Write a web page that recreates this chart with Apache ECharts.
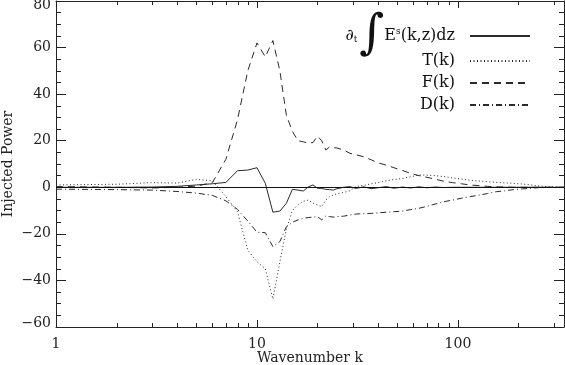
<!DOCTYPE html>
<html>
<head>
<meta charset="utf-8">
<script src="https://cdn.jsdelivr.net/npm/echarts@6/dist/echarts.min.js"></script>
<style>
  html, body { margin: 0; padding: 0; background: #fff; }
  #chart { width: 565px; height: 365px; }
</style>
</head>
<body>
<div id="chart"></div>
<script>
// wavenumbers shared by all four curves
const kVals = [1, 2, 3, 4, 5, 6, 7, 8, 9, 10, 11, 12, 13, 14, 15, 16, 17, 18, 19, 20,
  21, 22, 23, 24, 25, 27, 29, 31, 34, 37, 40, 44, 48, 53, 58, 64, 70, 77, 85, 94,
  104, 115, 127, 140, 155, 171, 189, 209, 231, 255, 282, 311, 337];

// d/dt of integrated energy (solid)
const dEVals = [0, 0, 0.1, 0.4, 1.0, 1.5, 2.1, 7.1, 7.4, 8.4, 1.7, -10.7, -10.2, -6.9, -0.9, -1.2, -1.6, 0.2, 1.0, -0.4,
  -0.5, -0.9, -1.0, -1.2, -0.6, 0.0, 0.3, -0.5, 0.2, -0.6, -0.2, 0.3, -0.4, 0.1, -0.3, 0.2, -0.2, 0.1, -0.1, 0,
  0, 0, 0, 0, 0, 0, 0, 0, 0, 0, 0, 0, 0];

// T(k) (dotted)
const tVals = [1.0, 1.3, 2.0, 1.8, 3.4, 2.8, -4.0, -10.5, -27, -32, -35, -48, -32, -18, -10, -7.5, -6, -5.5, -6.8, -7.6,
  -8.3, -5.5, -4, -3.3, -2.8, -2.2, -1.5, 0.3, 0.8, 1.5, 2.0, 2.8, 3.3, 3.8, 4.5, 5.3, 5.2, 5.0, 4.6, 4.0,
  3.5, 3.0, 2.7, 2.4, 2.1, 1.9, 1.7, 1.4, 1.0, 0.5, 0.2, 0.1, 0];

// F(k) (dashed)
const fVals = [0.3, 0, -0.3, 0, 0.5, 2.0, 12, 29, 50, 62, 56, 63, 50, 31, 24, 20, 19.5, 19, 19.2, 22,
  20, 16, 17.4, 17, 16.9, 16, 14.6, 14, 13.1, 11.8, 10.5, 9.5, 8.4, 7.2, 6, 5, 4.3, 3.5, 2.6, 2.0,
  1.5, 1.0, 0.7, 0.4, 0.2, 0.1, 0, 0, 0, 0, 0, 0, 0];

// D(k) (dash-dot)
const dVals = [-0.8, -1.0, -1.2, -1.8, -2.5, -3.5, -5.8, -9.5, -14.5, -19.3, -19.5, -25.5, -23.3, -17, -15, -14, -13.3, -13, -12.8, -12.6,
  -14, -12.3, -12.6, -12.8, -12.6, -12.4, -11.9, -11.5, -11.3, -11.2, -11, -10.7, -10.5, -10.2, -9.6, -9, -8.2, -7.2, -6.2, -5.5,
  -4.7, -4, -3.4, -2.7, -1.9, -1.5, -1.0, -0.7, -0.4, -0.1, 0, 0, 0];

const seriesNames = ['dE', 'T(k)', 'F(k)', 'D(k)'];
const xMin = 1, xMax = 337;
const yMin = -60, yMax = 80, yStep = 20;
const xMinorTicks = [2, 3, 4, 5, 6, 7, 8, 9, 20, 30, 40, 50, 60, 70, 80, 90, 200, 300];

const FONT = 'DejaVu Serif';
const INK = '#222';
const LINE = '#2a2a2a';

function pairs(vals) {
  return kVals.map((k, i) => [k, vals[i]]);
}

const chart = echarts.init(document.getElementById('chart'));

const xCommon = {
  type: 'log',
  logBase: 10,
  min: xMin,
  max: xMax,
  splitLine: {show: false},
  axisLine: {show: true, onZero: false, lineStyle: {color: INK, width: 1}},
  axisTick: {show: true, inside: true, length: 7, lineStyle: {color: INK}},
  minorTick: {show: false}
};

const yCommon = {
  type: 'value',
  min: yMin,
  max: yMax,
  interval: yStep,
  splitLine: {show: false},
  axisLine: {show: true, lineStyle: {color: INK, width: 1}},
  axisTick: {show: true, inside: true, length: 10, lineStyle: {color: INK}},
  minorTick: {show: true, splitNumber: 4, length: 5, lineStyle: {color: INK}}
};

const legendText = {
  fontFamily: FONT, fontSize: 16, color: '#111',
  width: 116, align: 'right', padding: [0, 10, 0, 0],
  rich: {
    d: {fontFamily: FONT, fontSize: 16, color: '#111'},
    sub: {fontFamily: FONT, fontSize: 9, color: '#111', padding: [8, 0, 0, 0]},
    int: {fontFamily: FONT, fontSize: 48, color: '#111', padding: [0, 0, 0, 2]},
    n: {fontFamily: FONT, fontSize: 16, color: '#111'},
    sup: {fontFamily: FONT, fontSize: 9, color: '#111', padding: [0, 0, 9, 0]}
  }
};

const legendCommon = {
  orient: 'vertical',
  right: 29,
  align: 'right',
  itemWidth: 60,
  itemHeight: 10,
  itemGap: 6,
  itemStyle: {color: 'rgba(0,0,0,0)', borderColor: 'rgba(0,0,0,0)', borderWidth: 0, opacity: 0},
  textStyle: legendText,
  formatter: name => name === 'dE'
    ? '{d|\u2202}{sub|t}{int|\u222B}{n|E}{sup|s}{n|(k,z)dz}'
    : name
};

const option = {
  animation: false,
  backgroundColor: '#fff',
  grid: {left: 56, right: 1, top: 1, bottom: 38, outerBoundsMode: 'none', containLabel: false},
  xAxis: [
    Object.assign({}, xCommon, {
      position: 'bottom',
      name: 'Wavenumber k',
      nameLocation: 'middle',
      nameGap: 24,
      nameMoveOverlap: false,
      nameTextStyle: {fontFamily: FONT, fontSize: 14, color: INK},
      axisLabel: {
        fontFamily: FONT, fontSize: 14, color: INK, margin: 10,
        formatter: v => ([1, 10, 100].indexOf(Math.round(v)) >= 0 ? String(Math.round(v)) : ''),
        showMaxLabel: false
      }
    }),
    Object.assign({}, xCommon, {position: 'top', axisLabel: {show: false}})
  ],
  yAxis: [
    Object.assign({}, yCommon, {
      position: 'left',
      name: 'Injected Power',
      nameLocation: 'middle',
      nameGap: 41,
      nameMoveOverlap: false,
      nameTextStyle: {fontFamily: FONT, fontSize: 14, color: INK},
      axisLabel: {
        fontFamily: FONT, fontSize: 14, color: INK, margin: 5,
        formatter: v => {
          const s = String(v).replace('-', '\u2212');
          if (v === yMax) return '{top|' + s + '}';
          if (v === yMin) return '{bot|' + s + '}';
          return s;
        },
        rich: {
          top: {fontFamily: FONT, fontSize: 14, color: INK, padding: [8, 0, 0, 0]},
          bot: {fontFamily: FONT, fontSize: 14, color: INK, padding: [0, 0, 8, 0]}
        }
      }
    }),
    Object.assign({}, yCommon, {position: 'right', axisLabel: {show: false}})
  ],
  legend: [
    Object.assign({}, legendCommon, {top: 7, data: [seriesNames[0]]}),
    Object.assign({}, legendCommon, {top: 48, data: seriesNames.slice(1)})
  ],
  series: [
    {
      name: 'dE', type: 'line', data: pairs(dEVals), symbol: 'none',
      lineStyle: {color: LINE, width: 1, type: 'solid'},
      itemStyle: {color: LINE},
      markLine: {
        silent: true, symbol: 'none', label: {show: false},
        lineStyle: {color: '#111', width: 1, type: 'solid'},
        data: [{yAxis: 0}]
      }
    },
    {
      name: 'T(k)', type: 'line', data: pairs(tVals), symbol: 'none',
      lineStyle: {color: LINE, width: 1, type: [1, 2.5]},
      itemStyle: {color: LINE}
    },
    {
      name: 'F(k)', type: 'line', data: pairs(fVals), symbol: 'none',
      lineStyle: {color: LINE, width: 1, type: [7, 5]},
      itemStyle: {color: LINE}
    },
    {
      name: 'D(k)', type: 'line', data: pairs(dVals), symbol: 'none',
      lineStyle: {color: LINE, width: 1, type: [6, 3, 1, 3]},
      itemStyle: {color: LINE}
    },
    {
      // minor log ticks on the bottom and top axes
      type: 'custom', silent: true, clip: false, z: 5,
      data: xMinorTicks.map(k => [k, yMin]),
      encode: {x: 0, y: 1},
      renderItem: (params, api) => {
        const k = api.value(0);
        const b = api.coord([k, yMin]);
        const t = api.coord([k, yMax]);
        const x = Math.round(b[0]) + 0.5;
        return {
          type: 'group',
          children: [
            {type: 'line', shape: {x1: x, y1: b[1], x2: x, y2: b[1] - 4}, style: {stroke: INK, lineWidth: 1}},
            {type: 'line', shape: {x1: x, y1: t[1], x2: x, y2: t[1] + 4}, style: {stroke: INK, lineWidth: 1}}
          ]
        };
      }
    }
  ]
};

chart.setOption(option);
</script>
</body>
</html>
